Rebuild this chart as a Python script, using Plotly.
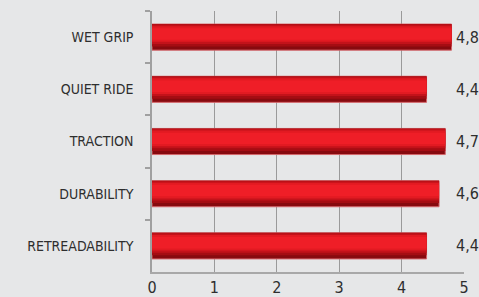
import plotly.graph_objects as go

categories = ["WET GRIP", "QUIET RIDE", "TRACTION", "DURABILITY", "RETREADABILITY"]
scores = [4.8, 4.4, 4.7, 4.6, 4.4]
score_labels = ["4,8", "4,4", "4,7", "4,6", "4,4"]
tick_vals = [0, 1, 2, 3, 4, 5]
tick_text = ["0", "1", "2", "3", "4", "5"]

FONT = "DejaVu Sans Condensed, Roboto Condensed, Roboto, sans-serif"
TEXT = "#2e2e2e"

fig = go.Figure()

# layered bars to mimic the glossy red gradient (offsets measured downward, axis reversed)
layers = [
    (-0.25, 0.50, "#870a0f", dict(color="#d4666b", width=1)),
    (-0.25, 0.43, "#a50d13", None),
    (-0.24, 0.37, "#c3121a", None),
    (-0.21, 0.30, "#e21a22", None),
    (-0.17, 0.22, "#ef1e27", None),
]
for off, w, col, line in layers:
    fig.add_trace(go.Bar(
        x=scores, y=categories, orientation="h",
        offset=off, width=w,
        marker=dict(color=col, line=line if line else dict(width=0)),
        hoverinfo="skip", showlegend=False,
    ))

for cat, lab in zip(categories, score_labels):
    fig.add_annotation(
        x=1, xref="paper", y=cat, yref="y",
        text=lab, showarrow=False, xanchor="center", xshift=3,
        font=dict(family=FONT, size=16, color=TEXT),
    )

fig.update_layout(
    width=479, height=297,
    margin=dict(l=152, r=15, t=11, b=25, autoexpand=False),
    paper_bgcolor="#e6e7e8", plot_bgcolor="#e6e7e8",
    barmode="overlay", bargap=0.5,
    font=dict(family=FONT, size=14, color=TEXT),
)
fig.update_xaxes(
    range=[0, 5], tickvals=tick_vals, ticktext=tick_text,
    showgrid=True, gridcolor="#9a9a9a", gridwidth=1,
    showline=True, linecolor="#a8a8a8", linewidth=1.5,
    zeroline=False, ticks="", tickfont=dict(size=16, family=FONT, color=TEXT),
    automargin=False, fixedrange=True,
)
fig.update_yaxes(
    categoryorder="array", categoryarray=categories, autorange="reversed",
    showline=True, linecolor="#a0a0a0", linewidth=1.5,
    ticks="outside", tickson="boundaries", ticklen=5, tickcolor="#a0a0a0", tickwidth=1.5,
    ticklabelstandoff=14, showgrid=False,
    tickfont=dict(size=14, family=FONT, color=TEXT),
    automargin=False, fixedrange=True,
)

fig.write_html(
    "out.html",
    config={"displayModeBar": False},
    post_script="document.body.style.margin='0';document.body.style.background='#e6e7e8';",
)
